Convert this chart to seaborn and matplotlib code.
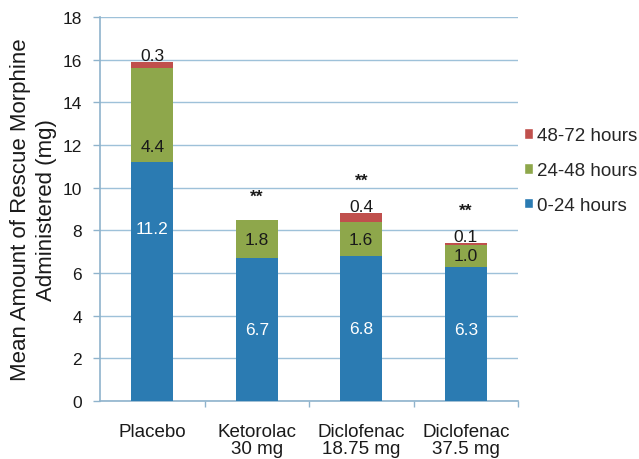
import matplotlib
matplotlib.use("Agg")
import matplotlib.pyplot as plt
import seaborn as sns
import numpy as np
import pandas as pd
from matplotlib.patches import Patch

groups = ["Placebo", "Ketorolac\n30 mg", "Diclofenac\n18.75 mg", "Diclofenac\n37.5 mg"]
h0_24 = [11.2, 6.7, 6.8, 6.3]
h24_48 = [4.4, 1.8, 1.6, 1.0]
h48_72 = [0.3, 0.0, 0.4, 0.1]
signif = ["", "**", "**", "**"]

c_blue = "#2b7bb2"
c_green = "#8ea74b"
c_red = "#c0504d"
grid_c = "#9ec1d9"
spine_c = "#8fb3cc"
text_c = "#1a1a1a"

sns.set_theme(style="white")
plt.rcParams["font.family"] = ["Liberation Sans", "DejaVu Sans"]

df = pd.DataFrame({"group": groups, "a": h0_24, "b": h24_48, "c": h48_72})
df["top2"] = df["a"] + df["b"]
df["top3"] = df["top2"] + df["c"]

fig = plt.figure(figsize=(6.39, 4.6), dpi=100)
ax = fig.add_axes([100 / 639, 58 / 460, 418 / 639, 384 / 460])

# stacked bars drawn as cumulative totals, tallest first
for col, color in [("top3", c_red), ("top2", c_green), ("a", c_blue)]:
    sns.barplot(data=df, x="group", y=col, color=color, width=0.4,
                saturation=1, linewidth=0, edgecolor="none", ax=ax, zorder=3)

ax.set_ylim(0, 18)
ax.set_xlim(-0.5, 3.5)
ax.set_yticks(np.arange(0, 19, 2))
ax.yaxis.grid(True, color=grid_c, linewidth=1.0, zorder=0)
ax.set_axisbelow(True)
ax.set_xlabel("")
ax.set_ylabel("Mean Amount of Rescue Morphine\nAdministered (mg)", fontsize=16,
              color=text_c, labelpad=4, linespacing=1.3)

for s in ["top", "right"]:
    ax.spines[s].set_visible(False)
for s in ["left", "bottom"]:
    ax.spines[s].set_color(spine_c)
    ax.spines[s].set_linewidth(1.2)

ax.tick_params(axis="y", left=True, length=5, width=1.0, color=spine_c,
               labelsize=12.5, labelcolor=text_c, pad=8)
ax.set_xticks(range(len(groups)))
ax.set_xticklabels(groups, fontsize=13.5, color=text_c, linespacing=0.95)
ax.tick_params(axis="x", bottom=False, pad=10)
ax.set_xticks([0.5, 1.5, 2.5, 3.5], minor=True)
ax.tick_params(axis="x", which="minor", bottom=True, length=4, width=1.0, color=spine_c)

# label anchor within each segment (fraction of segment height)
blue_pos = [0.72, 0.5, 0.5, 0.53]
green_pos = [0.17, 0.48, 0.48, 0.5]

for i in range(len(groups)):
    a, b, c = h0_24[i], h24_48[i], h48_72[i]
    ax.text(i, a * blue_pos[i], f"{a:.1f}", ha="center", va="center", color="white",
            fontsize=12.5, zorder=5)
    ax.text(i, a + b * green_pos[i], f"{b:.1f}", ha="center", va="center", color=text_c,
            fontsize=12.5, zorder=5)
    top = a + b + c
    if c > 0:
        ax.text(i, top + 0.3, f"{c:.1f}", ha="center", va="center", color=text_c,
                fontsize=12.5, zorder=5)
        star_y = top + 1.55
    else:
        star_y = top + 1.1
    if signif[i]:
        ax.text(i, star_y, signif[i], ha="center", va="center", color=text_c,
                fontsize=12.5, fontweight="bold", zorder=5)

handles = [Patch(facecolor=c_red, label="48-72 hours"),
           Patch(facecolor=c_green, label="24-48 hours"),
           Patch(facecolor=c_blue, label="0-24 hours")]
fig.legend(handles=handles, loc="upper left", bbox_to_anchor=(524 / 639, 1 - 128 / 460),
           frameon=False, fontsize=13.5, handlelength=0.5, handleheight=0.5,
           handletextpad=0.2, labelspacing=0.95, borderaxespad=0, borderpad=0)

fig.savefig("out.png", dpi=100, facecolor="white")
